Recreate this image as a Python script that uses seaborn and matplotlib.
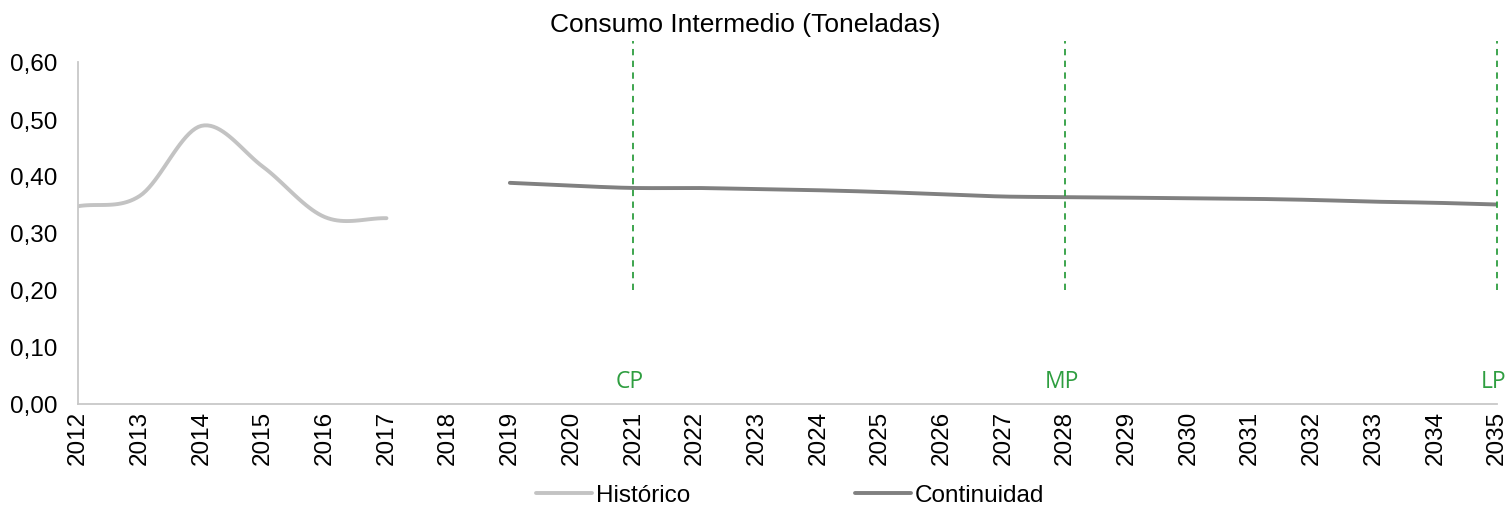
import numpy as np
import pandas as pd
import matplotlib
matplotlib.use("Agg")
import matplotlib.pyplot as plt
import seaborn as sns
from matplotlib.lines import Line2D

# ---- data ----
years = list(range(2012, 2036))
hist_years = [2012, 2013, 2014, 2015, 2016, 2017]
hist_vals = [0.347, 0.365, 0.488, 0.416, 0.328, 0.326]
cont_years = list(range(2019, 2036))
cont_vals = [0.388, 0.383, 0.379, 0.379, 0.377, 0.375, 0.372, 0.368, 0.364,
             0.363, 0.362, 0.361, 0.360, 0.358, 0.355, 0.353, 0.350]
marker_years = [2021, 2028, 2035]
marker_labels = ["CP", "MP", "LP"]
y_ticks = [0.0, 0.1, 0.2, 0.3, 0.4, 0.5, 0.6]
title = "Consumo Intermedio (Toneladas)"
series_names = ["Histórico", "Continuidad"]


def smooth(xs, ys, n=20):
    """Catmull-Rom style smoothing for rendering (like Excel smoothed lines)."""
    xs = np.asarray(xs, float)
    ys = np.asarray(ys, float)
    px = np.concatenate([[2 * xs[0] - xs[1]], xs, [2 * xs[-1] - xs[-2]]])
    py = np.concatenate([[2 * ys[0] - ys[1]], ys, [2 * ys[-1] - ys[-2]]])
    ox, oy = [], []
    for i in range(1, len(px) - 2):
        t = np.linspace(0, 1, n, endpoint=False)
        for P, out in ((px, ox), (py, oy)):
            p0, p1, p2, p3 = P[i - 1], P[i], P[i + 1], P[i + 2]
            v = 0.5 * ((2 * p1) + (-p0 + p2) * t + (2 * p0 - 5 * p1 + 4 * p2 - p3) * t ** 2
                       + (-p0 + 3 * p1 - 3 * p2 + p3) * t ** 3)
            out.extend(v)
    ox.append(xs[-1]); oy.append(ys[-1])
    return np.array(ox), np.array(oy)


sns.set_theme(style="white")
plt.rcParams["font.family"] = ["Liberation Sans", "DejaVu Sans"]
plt.rcParams["text.color"] = "black"
plt.rcParams["xtick.color"] = "black"
plt.rcParams["ytick.color"] = "black"

fig = plt.figure(figsize=(15.09, 5.10), dpi=100)
ax = fig.add_axes([78 / 1509, 1 - 405 / 510, (1497 - 78) / 1509, (405 - 63) / 510])

hx, hy = smooth(hist_years, hist_vals)
cx, cy = smooth(cont_years, cont_vals)
df = pd.concat([
    pd.DataFrame({"x": hx, "y": hy, "s": series_names[0]}),
    pd.DataFrame({"x": cx, "y": cy, "s": series_names[1]}),
])
sns.lineplot(data=df, x="x", y="y", hue="s", sort=False, estimator=None,
             palette={series_names[0]: "#c3c3c3", series_names[1]: "#808080"},
             linewidth=2.8, ax=ax, legend=False)

green = "#2e9e40"
for yr, lab in zip(marker_years, marker_labels):
    ax.plot([yr, yr], [0.2, 0.637], color=green, linestyle=(0, (3.5, 3)),
            linewidth=1.3, clip_on=False)
    ax.text(yr - 0.05, 0.04, lab, color=green, fontsize=16.5, ha="center", va="center",
            family=["Open Sans", "DejaVu Sans"])

ax.set_xlim(years[0], years[-1])
ax.set_ylim(0, 0.6)
ax.set_xticks(years)
ax.set_xticklabels([str(y) for y in years], rotation=90, fontsize=17.5)
ax.set_yticks(y_ticks)
ax.set_yticklabels([f"{v:.2f}".replace(".", ",") for v in y_ticks], fontsize=17.5)
ax.tick_params(axis="y", length=0, pad=15)
ax.tick_params(axis="x", length=0, pad=4)
ax.set_xlabel("")
ax.set_ylabel("")
for s in ["top", "right"]:
    ax.spines[s].set_visible(False)
for s in ["left", "bottom"]:
    ax.spines[s].set_color("#c8c8c8")
    ax.spines[s].set_linewidth(1.3)

fig.text(745 / 1509, 1 - 25 / 510, title, fontsize=19, ha="center", va="center")

handles = [Line2D([], [], color="#c3c3c3", linewidth=2.8),
           Line2D([], [], color="#808080", linewidth=2.8)]
fig.legend(handles, series_names, loc="center", bbox_to_anchor=(790 / 1509, 1 - 496 / 510),
           ncol=2, frameon=False, fontsize=17.5, handlelength=2.3, handletextpad=0.15,
           columnspacing=6.8, borderpad=0)

fig.savefig("out.png", dpi=100, facecolor="white")
